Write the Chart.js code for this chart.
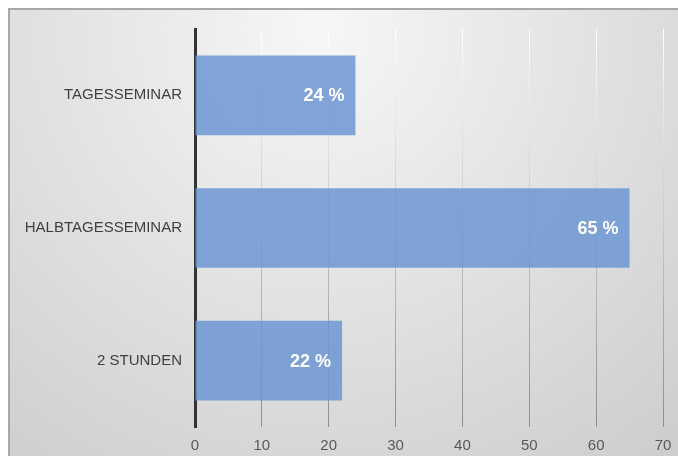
<!DOCTYPE html>
<html>
<head>
<meta charset="utf-8">
<script src="https://cdn.jsdelivr.net/npm/chart.js@4.4.1/dist/chart.umd.min.js"></script>
<style>
  body { margin: 0; background: #ffffff; }
  canvas { display: block; }
</style>
</head>
<body>
<canvas id="cvs_bar" width="678" height="456"></canvas>
<script>
var categories = ["TAGESSEMINAR", "HALBTAGESSEMINAR", "2 STUNDEN"];
var shares = [24, 65, 22];
var xTicks = [0, 10, 20, 30, 40, 50, 60, 70];

// grey framed background with a soft light spot near the top
var backgroundPlugin = {
    id: 'background',
    beforeDraw: function(chart) {
        var ctx = chart.ctx;
        ctx.save();
        ctx.fillStyle = '#ffffff';
        ctx.fillRect(0, 0, chart.width, chart.height);
        var g = ctx.createRadialGradient(320, 30, 10, 320, 30, 620);
        g.addColorStop(0, '#f6f6f6');
        g.addColorStop(1, '#c8c8c8');
        ctx.fillStyle = g;
        ctx.fillRect(10, 10, chart.width - 10, chart.height - 10);
        ctx.strokeStyle = '#a8a8a8';
        ctx.lineWidth = 2;
        ctx.beginPath();
        ctx.moveTo(9, chart.height);
        ctx.lineTo(9, 9);
        ctx.lineTo(chart.width, 9);
        ctx.stroke();
        ctx.restore();
    }
};

// "24 %" style labels at the inner end of each bar
var valueLabels = {
    id: 'valueLabels',
    afterDatasetsDraw: function(chart) {
        var ctx = chart.ctx;
        var meta = chart.getDatasetMeta(0);
        ctx.save();
        ctx.fillStyle = '#ffffff';
        ctx.font = 'bold 18px "Liberation Sans", Arial, sans-serif';
        ctx.textAlign = 'right';
        ctx.textBaseline = 'middle';
        meta.data.forEach(function(bar, i) {
            ctx.fillText(shares[i] + ' %', bar.x - 11, bar.y + 1);
        });
        ctx.restore();
    }
};

var gridGradient = null;
function gridColor(c) {
    if (c.tick && c.tick.value === 0) return 'rgba(0,0,0,0)';
    var area = c.chart.chartArea;
    if (!area) return '#cccccc';
    if (!gridGradient) {
        gridGradient = c.chart.ctx.createLinearGradient(0, area.top, 0, area.bottom);
        gridGradient.addColorStop(0, '#ffffff');
        gridGradient.addColorStop(1, '#8e8e8e');
    }
    return gridGradient;
}

var config = {
    type: 'bar',
    data: {
        labels: categories,
        datasets: [{
            data: shares,
            backgroundColor: 'rgba(108, 150, 212, 0.85)',
            borderWidth: 0,
            barPercentage: 1,
            categoryPercentage: 0.6
        }]
    },
    options: {
        indexAxis: 'y',
        responsive: false,
        animation: false,
        devicePixelRatio: 1,
        layout: {
            padding: { left: 0, top: 29, right: 15, bottom: 0 }
        },
        plugins: {
            legend: { display: false },
            tooltip: { enabled: false }
        },
        scales: {
            x: {
                min: 0,
                max: 70,
                afterFit: function(scale) {
                    scale.height = 29;
                    scale.paddingLeft = 0;
                    scale.paddingRight = 0;
                },
                afterBuildTicks: function(scale) {
                    scale.ticks = xTicks.map(function(v) { return { value: v }; });
                },
                grid: {
                    color: gridColor,
                    lineWidth: 1,
                    drawTicks: false
                },
                border: { display: false },
                ticks: {
                    padding: 10,
                    color: '#595959',
                    font: { family: '"Liberation Sans", Arial, sans-serif', size: 15 }
                }
            },
            y: {
                afterFit: function(scale) { scale.width = 195; },
                grid: { display: false, drawTicks: false },
                border: { display: true, color: '#333333', width: 3 },
                ticks: {
                    padding: 13,
                    color: '#404040',
                    font: { family: '"Liberation Sans", Arial, sans-serif', size: 15 }
                }
            }
        }
    },
    plugins: [backgroundPlugin, valueLabels]
};

window.onload = function() {
    window.myBar = new Chart(document.getElementById("cvs_bar"), config);
};
</script>
</body>
</html>
